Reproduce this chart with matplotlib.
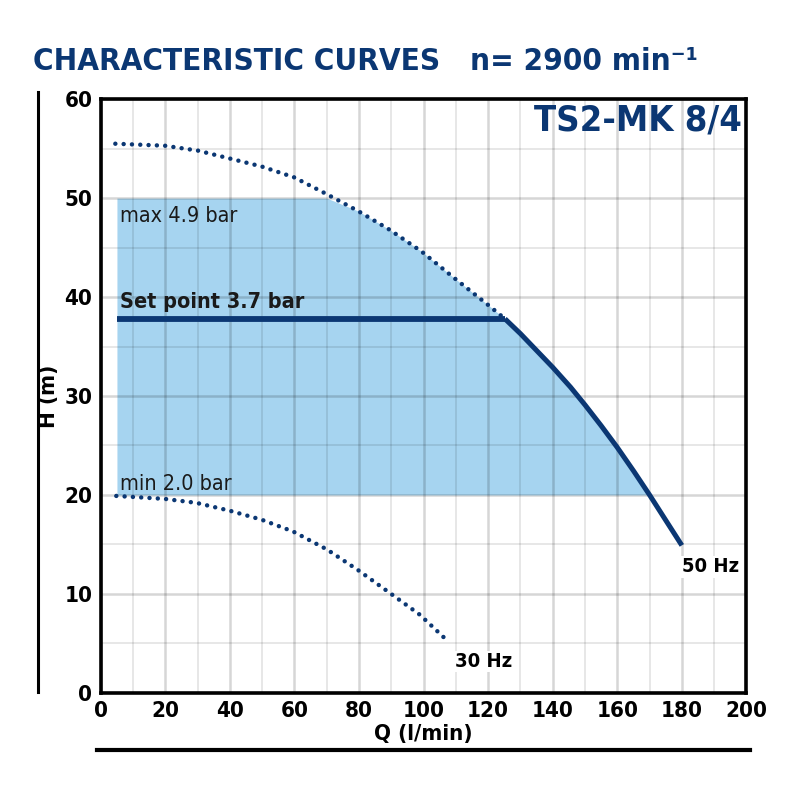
import numpy as np
import matplotlib.pyplot as plt
from matplotlib.lines import Line2D

plt.rcParams['font.family'] = ['DejaVu Sans']
plt.rcParams['font.stretch'] = 'condensed'

navy = "#0b3773"

# 50 Hz curve, dotted part (above set point)
q_50_dot = [4.5, 19.8, 30.1, 40.0, 49.8, 59.9, 70.0, 79.7, 89.5, 99.4, 109.2, 120.0, 125.2]
h_50_dot = [55.5, 55.3, 54.8, 54.0, 53.2, 52.1, 50.4, 48.7, 46.8, 44.6, 42.0, 39.2, 37.8]

# 50 Hz curve, solid part (below set point)
q_50_solid = [125.2, 130.0, 140.0, 145.5, 150.0, 155.0, 160.0, 165.1, 170.0, 174.7, 180.0]
h_50_solid = [37.8, 36.3, 32.9, 30.9, 29.1, 27.0, 24.8, 22.4, 20.0, 17.6, 14.9]

# 30 Hz curve
q_30 = [4.8, 19.8, 29.6, 40.0, 49.8, 59.6, 70.0, 79.7, 89.5, 98.8, 106.6]
h_30 = [19.9, 19.6, 19.2, 18.4, 17.5, 16.3, 14.5, 12.4, 10.1, 7.9, 5.5]

q_start = 5
h_setpoint = 37.8
h_max = 50
h_min = 20

xticks = [0, 20, 40, 60, 80, 100, 120, 140, 160, 180, 200]
yticks = [0, 10, 20, 30, 40, 50, 60]

fig = plt.figure(figsize=(8, 8), dpi=100)
ax = fig.add_axes([0.126, 0.134, 0.807, 0.742])

# shaded operating band
env_q = [q_start] + q_50_dot[6:] + q_50_solid[1:9]
env_h = [h_max] + h_50_dot[6:] + h_50_solid[1:9]
env_h = np.minimum(env_h, h_max)
ax.fill_between(env_q, h_min, env_h, color="#a6d4f0", lw=0, zorder=1)

# grid
ax.set_xlim(0, 200)
ax.set_ylim(0, 60)
ax.set_xticks(xticks)
ax.set_yticks(yticks)
ax.set_xticks(np.arange(10, 200, 20), minor=True)
ax.set_yticks(np.arange(5, 60, 10), minor=True)
ax.grid(which="major", color="black", alpha=0.16, lw=1.8, zorder=2)
ax.grid(which="minor", color="black", alpha=0.1, lw=1.3, zorder=2)
ax.set_axisbelow(False)
ax.tick_params(which="both", length=0, pad=6)

dots = dict(color=navy, lw=3.2, linestyle=(0, (0.01, 1.86)), dash_capstyle="round", zorder=3)
ax.plot(q_50_dot, h_50_dot, **dots)
ax.plot(q_30, h_30, **dots)
ax.plot([q_start, q_50_solid[0]], [h_setpoint, h_setpoint], color=navy, lw=4.2, zorder=4,
        solid_capstyle="butt")
ax.plot(q_50_solid, h_50_solid, color=navy, lw=3.6, zorder=4, solid_joinstyle="round",
        solid_capstyle="butt")

for s in ax.spines.values():
    s.set_linewidth(2.6)
    s.set_color("black")
    s.set_zorder(5)

for lab in ax.get_xticklabels() + ax.get_yticklabels():
    lab.set_fontsize(16)
    lab.set_fontweight("bold")

ax.set_xlabel("Q (l/min)", fontsize=16, fontweight="bold", labelpad=2)
ax.set_ylabel("H (m)", fontsize=16, fontweight="bold", labelpad=4)

ax.text(5.9, 47.6, "max 4.9 bar", fontsize=15.5, color="#1a1a1a", va="baseline", zorder=6)
ax.text(5.9, 38.9, "Set point 3.7 bar", fontsize=15.5, fontweight="bold", color="#1a1a1a",
        va="baseline", zorder=6)
ax.text(5.9, 20.5, "min 2.0 bar", fontsize=15.5, color="#1a1a1a", va="baseline", zorder=6)
ax.text(180, 12.2, "50 Hz", fontsize=14.5, fontweight="bold", va="baseline", zorder=6,
        bbox=dict(facecolor="white", edgecolor="none", pad=1))
ax.text(109.7, 2.6, "30 Hz", fontsize=14.5, fontweight="bold", va="baseline", zorder=6,
        bbox=dict(facecolor="white", edgecolor="none", pad=1))
ax.text(198.5, 57.8, "TS2-MK 8/4", fontsize=26, fontweight="bold", color=navy,
        ha="right", va="center", zorder=6)

fig.text(0.041, 0.913, "CHARACTERISTIC CURVES", fontsize=22.5, fontweight="bold",
         color=navy, va="baseline")
fig.text(0.588, 0.913, "n= 2900 min⁻¹", fontsize=22.5, fontweight="bold",
         color=navy, va="baseline")

# side and bottom rules
fig.add_artist(Line2D([0.048, 0.048], [0.135, 0.885], color="black", lw=2.2))
fig.add_artist(Line2D([0.121, 0.938], [0.0625, 0.0625], color="black", lw=3))

fig.savefig("out.png", dpi=100)
